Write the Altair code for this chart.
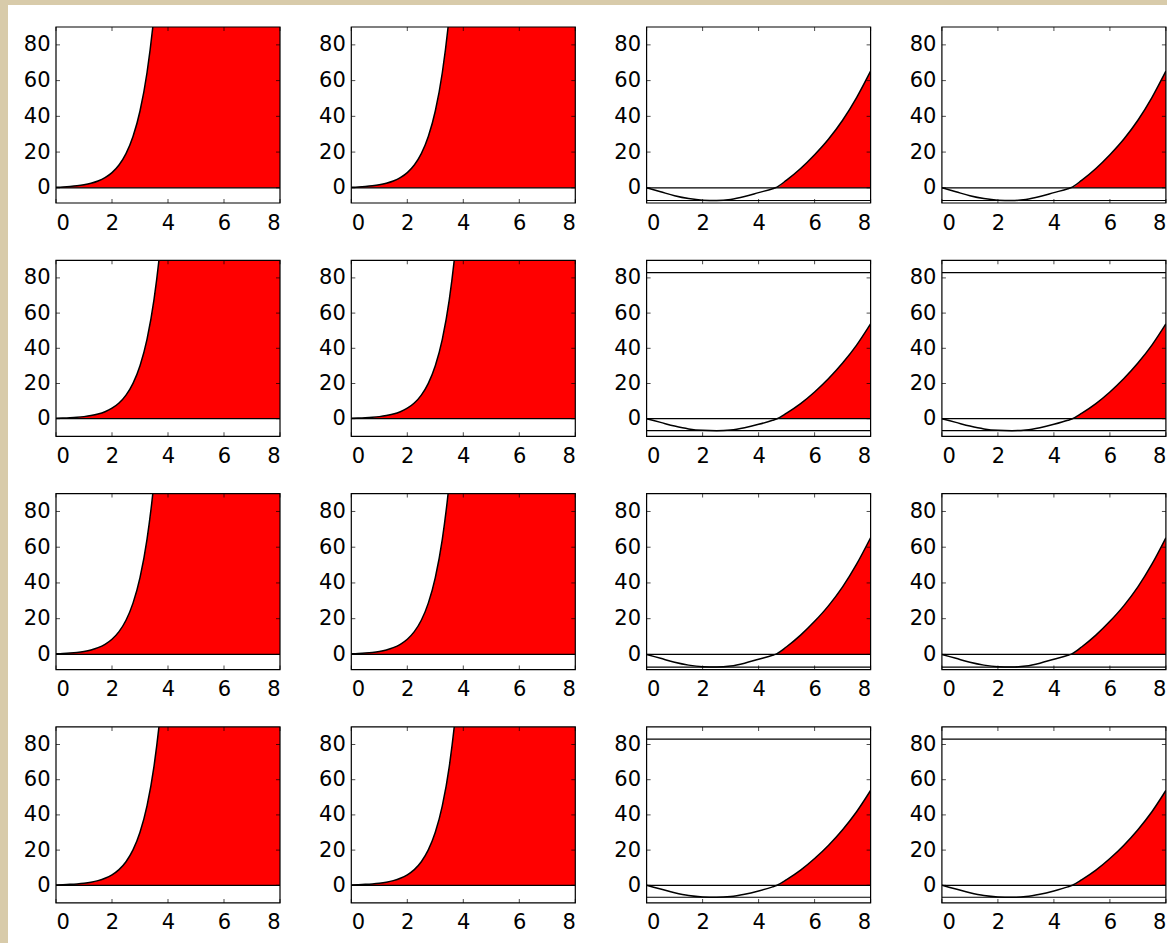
import altair as alt
import pandas as pd

# ---- tick labels ----
x_ticks = [0, 2, 4, 6, 8]
y_ticks = [0, 20, 40, 60, 80]

# ---- steep curve (columns 1-2) ----
xa = [0, 0.25, 0.5, 0.75, 1, 1.25, 1.5, 1.75, 2, 2.25, 2.5, 2.75, 3, 3.25, 3.5, 3.75, 4, 5, 6, 7, 8]
ya_rows13 = [0.33, 0.50, 0.75, 1.12, 1.68, 2.52, 3.78, 5.67, 8.5, 12.75, 19.1, 28.7, 43.0, 64.4, 96.6,
             145, 217, 1098, 5550, 28000, 141000]
ya_rows24 = [0.23, 0.35, 0.53, 0.79, 1.18, 1.77, 2.65, 3.97, 5.95, 8.9, 13.4, 20.1, 30.1, 45.1, 67.6,
             101.5, 152, 769, 3885, 19600, 98700]

# ---- dipping curves (columns 3-4) ----
xb = [0, 0.5, 1, 1.5, 2, 2.5, 3, 3.5, 4, 4.5, 4.6, 5, 5.5, 6, 6.5, 7, 7.5, 8]
yb = [0, -2.2, -4.4, -6.0, -6.9, -7.1, -6.5, -4.9, -2.7, -0.5, 0, 4.3, 10.8, 18.5, 27.3, 37.8, 50.5, 65.3]
xc = [0, 0.5, 1, 1.5, 2, 2.5, 3, 3.5, 4, 4.5, 4.66, 5, 5.5, 6, 6.5, 7, 7.5, 8]
yc = [0, -2.1, -4.2, -5.8, -6.6, -6.8, -6.4, -5.1, -3.2, -0.9, 0, 3.2, 8.6, 15.2, 22.8, 31.6, 41.8, 53.9]

# ---- horizontal reference lines ----
lines_a = [0]
lines_b = [0, -7.1]
lines_c = [0, -6.8, 83]

ymin_rows13 = -8.5
ymin_rows24 = -10
ymax = 90

W, H = 224, 176
BEIGE = "#d8cbaa"


def panel(xs, ys, hlines, ymin, first=False):
    xsc = alt.Scale(domain=[0, 8], nice=False, zero=False)
    ysc = alt.Scale(domain=[ymin, ymax], nice=False, zero=False)
    xax = alt.Axis(values=x_ticks, ticks=False, domain=False, grid=False, title=None,
                   labelPadding=9, zindex=1, labelAngle=0)
    yax = alt.Axis(values=y_ticks, ticks=False, domain=False, grid=False, title=None,
                   labelPadding=6, zindex=1)
    X = lambda f: alt.X(f, scale=xsc, axis=xax)
    Y = lambda f: alt.Y(f, scale=ysc, axis=yax)
    curve = pd.DataFrame({"x": xs, "y": ys})

    layers = []
    if first:
        one = alt.Data(values=[{"k": 1}])
        layers.append(alt.Chart(one).mark_rect(color=BEIGE).encode(
            x=alt.value(-56), x2=alt.value(-48), y=alt.value(-27), y2=alt.value(916)))
        layers.append(alt.Chart(one).mark_rect(color=BEIGE).encode(
            x=alt.value(-56), x2=alt.value(1111), y=alt.value(-27), y2=alt.value(-22)))

    area = alt.Chart(curve).transform_filter("datum.y >= 0").mark_area(
        color="#ff0000", clip=True, interpolate="monotone").encode(
        x=X("x:Q"), y=Y("y:Q"), y2=alt.datum(0))
    line = alt.Chart(curve).mark_line(
        color="black", strokeWidth=1.5, clip=True, interpolate="monotone").encode(
        x=X("x:Q"), y=Y("y:Q"))
    rules = alt.Chart(pd.DataFrame({"y": hlines})).mark_rule(
        color="black", strokeWidth=1.2, clip=True).encode(y=Y("y:Q"))

    xt = pd.DataFrame({"x": x_ticks})
    yt = pd.DataFrame({"y": y_ticks})
    tb = alt.Chart(xt).mark_tick(orient="vertical", size=4, thickness=1, color="black").encode(
        x=X("x:Q"), y=alt.value(H - 2))
    tt = alt.Chart(xt).mark_tick(orient="vertical", size=4, thickness=1, color="black").encode(
        x=X("x:Q"), y=alt.value(2))
    tl = alt.Chart(yt).mark_tick(orient="horizontal", size=4, thickness=1, color="black").encode(
        y=Y("y:Q"), x=alt.value(2))
    tr = alt.Chart(yt).mark_tick(orient="horizontal", size=4, thickness=1, color="black").encode(
        y=Y("y:Q"), x=alt.value(W - 2))

    frame = alt.Chart(alt.Data(values=[{"k": 1}])).mark_rect(
        fillOpacity=0, stroke="black", strokeWidth=1.2).encode(
        x=alt.value(0), x2=alt.value(W), y=alt.value(0), y2=alt.value(H))

    layers += [area, line, rules, tb, tt, tl, tr, frame]
    return alt.layer(*layers).properties(width=W, height=H)


panels = []
for r in range(4):
    ymin = ymin_rows13 if r % 2 == 0 else ymin_rows24
    ya = ya_rows13 if r % 2 == 0 else ya_rows24
    for c in range(4):
        if c < 2:
            p = panel(xa, ya, lines_a, ymin, first=(r == 0 and c == 0))
        elif r % 2 == 0:
            p = panel(xb, yb, lines_b, ymin)
        else:
            p = panel(xc, yc, lines_c, ymin)
        panels.append(p)

chart = alt.concat(
    *panels, columns=4, spacing={"row": 57.3, "column": 71.3}, bounds="flush"
).properties(
    background="white", padding=0
).configure_view(
    strokeWidth=0
).configure_axis(
    labelFont="DejaVu Sans", labelFontSize=21, labelColor="black"
)

chart.save("out.html", embed_options={"renderer": "svg", "actions": False})
